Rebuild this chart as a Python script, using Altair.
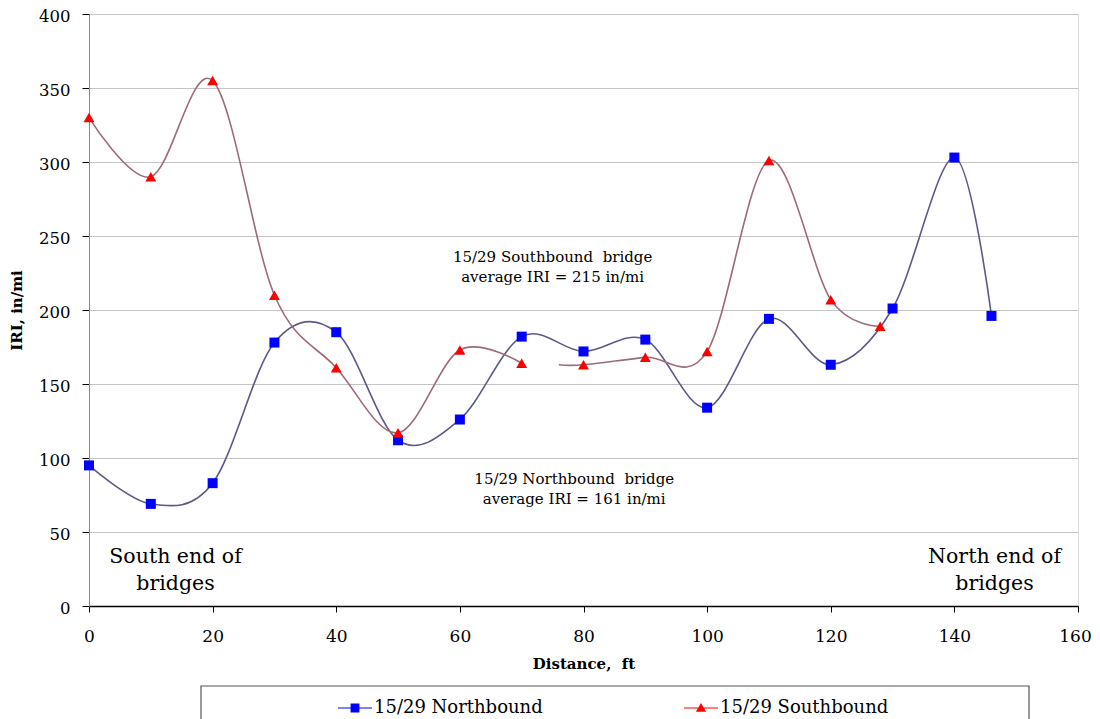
import altair as alt
import pandas as pd

# ---- data ----
nb_x = [0, 10, 20, 30, 40, 50, 60, 70, 80, 90, 100, 110, 120, 130, 140, 146]
nb_y = [95, 69, 83, 178, 185, 112, 126, 182, 172, 180, 134, 194, 163, 201, 303, 196]

sb_x = [0, 10, 20, 30, 40, 50, 60, 70, 76, 80, 90, 100, 110, 120, 128]
sb_y = [330, 290, 355, 210, 161, 117, 173, 164, 163, 163, 168, 172, 301, 207, 189]
sb_seg = [1, 1, 1, 1, 1, 1, 1, 1, 2, 2, 2, 2, 2, 2, 2]
sb_marker = [True, True, True, True, True, True, True, True, False, True, True, True, True, True, True]

series = ["15/29 Northbound", "15/29 Southbound"]
marker_colors = ["#0000ff", "#ff0000"]
line_colors = ["#5a5a86", "#9c6b78"]

notes_text = ["15/29 Southbound\u00a0\u00a0bridge", "average IRI = 215 in/mi",
              "15/29 Northbound\u00a0\u00a0bridge", "average IRI = 161 in/mi"]
notes_x = [75, 75, 78.5, 78.5]
notes_y = [236, 222, 86, 72]

ends_text = ["South end of", "bridges", "North end of", "bridges"]
ends_x = [14, 14, 146.5, 146.5]
ends_y = [33, 15, 33, 15]

FONT = "DejaVu Serif"

nb = pd.DataFrame({"x": nb_x, "y": nb_y, "series": series[0], "seg": "n", "marker": True})
sb = pd.DataFrame({"x": sb_x, "y": sb_y, "series": series[1],
                   "seg": ["s" + str(s) for s in sb_seg], "marker": sb_marker})
df = pd.concat([nb, sb], ignore_index=True)

xscale = alt.Scale(domain=[0, 160], nice=False, zero=False)
yscale = alt.Scale(domain=[0, 400], nice=False)

xenc = alt.X("x:Q", scale=xscale, title="Distance,\u00a0\u00a0ft",
             axis=alt.Axis(values=list(range(0, 161, 20)), grid=False, labelFlush=False,
                           labelOffset={"condition": {"test": "datum.value == 160", "value": -3}, "value": 0},
                           domainColor="#000000", tickColor="#000000", tickSize=6,
                           labelPadding=16, labelFontSize=17, labelFont=FONT,
                           labelColor="#000000", titleFont=FONT, titleFontSize=15,
                           titleFontWeight="bold", titlePadding=12, titleColor="#000000",
                           domainWidth=1.5))
yenc = alt.Y("y:Q", scale=yscale, title="IRI, in/mi",
             axis=alt.Axis(values=list(range(0, 401, 50)), grid=True, gridColor="#c4c4c4",
                           labelFlush=False, labelOffset=2.5,
                           domainColor="#8a8a8a", tickColor="#000000", tickSize=7,
                           labelPadding=12, labelFontSize=16.5, labelFont=FONT,
                           labelColor="#000000", titleFont=FONT, titleFontSize=15,
                           titleFontWeight="bold", titlePadding=14, titleColor="#000000"))

lines = alt.Chart(df).mark_line(interpolate="cardinal", strokeWidth=1.6).encode(
    x=xenc, y=yenc,
    detail="seg:N",
    color=alt.Color("series:N", scale=alt.Scale(domain=series, range=line_colors), legend=None),
)

points = alt.Chart(df).transform_filter("datum.marker").mark_point(filled=True, opacity=1).encode(
    x="x:Q", y="y:Q",
    color=alt.Color("series:N", scale=alt.Scale(domain=series, range=marker_colors), legend=None),
    shape=alt.Shape("series:N", scale=alt.Scale(domain=series, range=["square", "triangle-up"]), legend=None),
    size=alt.Size("series:N", scale=alt.Scale(domain=series, range=[100, 120]), legend=None),
)

leg_paths = [
    "M-1,-0.035H1V0.035H-1Z M-0.26,-0.26H0.26V0.26H-0.26Z",
    "M-1,-0.035H1V0.035H-1Z M0,-0.3L0.3,0.22H-0.3Z",
]
legend_layer = alt.Chart(df).transform_filter("false").mark_point(filled=True, opacity=1).encode(
    x="x:Q", y="y:Q",
    color=alt.Color("series:N", scale=alt.Scale(domain=series, range=marker_colors),
                    legend=alt.Legend(title=None, orient="none", direction="horizontal",
                                      legendX=248, legendY=676, symbolSize=1156,
                                      labelFont=FONT, labelFontSize=18, labelColor="#000000",
                                      labelOffset=1, columnPadding=140, labelLimit=400,
                                      padding=0)),
    shape=alt.Shape("series:N", scale=alt.Scale(domain=series, range=leg_paths)),
)

box = alt.Chart(df).transform_filter("datum.x == 0 && datum.series == '15/29 Northbound'").mark_rect(
    fill="#ffffff", stroke="#555555", strokeWidth=1.2).encode(
    x=alt.value(112), x2=alt.value(940), y=alt.value(672), y2=alt.value(740))

notes = alt.Chart(pd.DataFrame({"t": notes_text, "x": notes_x, "y": notes_y})).mark_text(
    font=FONT, fontSize=15, color="#000000").encode(x="x:Q", y="y:Q", text="t:N")

ends = alt.Chart(pd.DataFrame({"t": ends_text, "x": ends_x, "y": ends_y})).mark_text(
    font=FONT, fontSize=20.5, color="#000000").encode(x="x:Q", y="y:Q", text="t:N")

chart = alt.layer(box, lines, points, legend_layer, notes, ends).resolve_scale(
    color="independent", shape="independent", size="independent"
).properties(
    width=989, height=592,
    autosize=alt.AutoSizeParams(type="none"),
    padding={"left": 81, "top": 6, "right": 14, "bottom": 125},
).configure_view(stroke="#a8a8a8", strokeWidth=1.5).configure(background="#ffffff")

chart.save("out.html", embed_options={"renderer": "svg", "actions": False})
